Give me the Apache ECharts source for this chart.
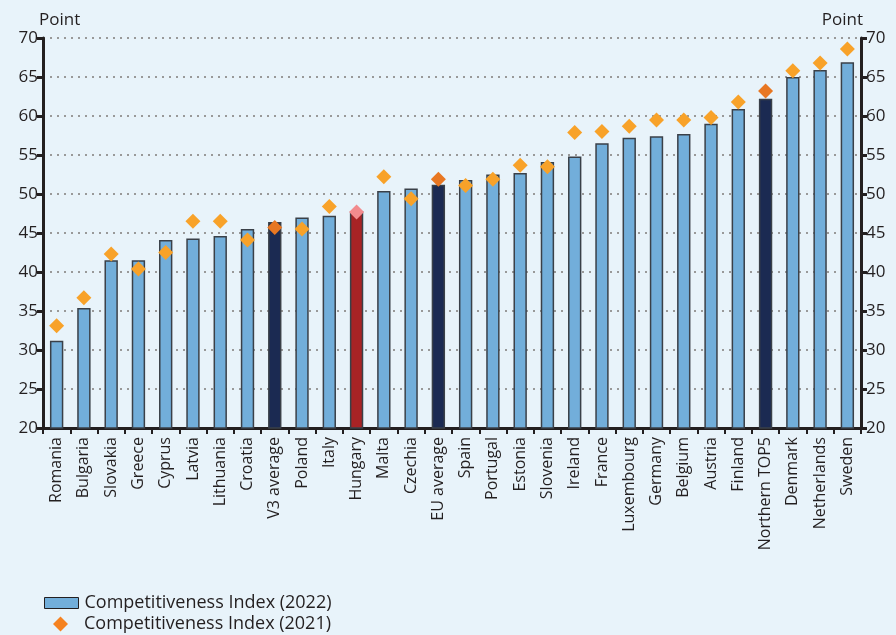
<!DOCTYPE html>
<html style="height: 100%">
<head>
<meta charset="utf-8">
<script src="https://cdn.jsdelivr.net/npm/echarts@6/dist/echarts.min.js"></script>
</head>
<body style="height: 100%; margin: 0; background: #E8F3FA">
<div id="container" style="width: 896px; height: 635px"></div>
<script type="text/javascript">
var categories = ['Romania', 'Bulgaria', 'Slovakia', 'Greece', 'Cyprus', 'Latvia', 'Lithuania', 'Croatia',
    'V3 average', 'Poland', 'Italy', 'Hungary', 'Malta', 'Czechia', 'EU average', 'Spain', 'Portugal',
    'Estonia', 'Slovenia', 'Ireland', 'France', 'Luxembourg', 'Germany', 'Belgium', 'Austria', 'Finland',
    'Northern TOP5', 'Denmark', 'Netherlands', 'Sweden'];
var index2022 = [31.2, 35.4, 41.5, 41.5, 44.1, 44.3, 44.6, 45.5, 46.4, 47.0, 47.2, 47.8, 50.4, 50.7, 51.2,
    51.8, 52.5, 52.7, 54.1, 54.8, 56.5, 57.2, 57.4, 57.7, 59.0, 60.9, 62.2, 65.0, 65.9, 66.9];
var index2021 = [33.1, 36.7, 42.3, 40.4, 42.5, 46.5, 46.5, 44.1, 45.7, 45.5, 48.4, 47.7, 52.2, 49.4, 51.9,
    51.1, 51.9, 53.7, 53.5, 57.9, 58.0, 58.7, 59.5, 59.5, 59.8, 61.8, 63.2, 65.8, 66.8, 68.6];
var yTicks = [20, 25, 30, 35, 40, 45, 50, 55, 60, 65, 70];

var averages = ['V3 average', 'EU average', 'Northern TOP5'];

var barData = categories.map(function (c, i) {
    var col = '#72AEDA';
    if (averages.indexOf(c) >= 0) col = '#1B2A52';
    if (c === 'Hungary') col = '#A82325';
    return { value: index2022[i], itemStyle: { color: col } };
});
var dotData = categories.map(function (c, i) {
    var col = '#F8A229';
    if (averages.indexOf(c) >= 0) col = '#E87722';
    if (c === 'Hungary') col = '#F28B8E';
    return { value: index2021[i], itemStyle: { color: col } };
});

var font = 'Open Sans';
var ink = '#231F20';
var yAxisBase = {
    type: 'value',
    min: yTicks[0],
    max: yTicks[yTicks.length - 1],
    interval: 5,
    name: 'Point',
    nameGap: 9,
    axisLine: { show: true, lineStyle: { color: ink, width: 3 } },
    axisTick: { show: true, length: 6, lineStyle: { color: ink, width: 3 } },
    axisLabel: { color: ink, fontSize: 17, fontFamily: font, margin: 5 },
    splitLine: { show: true, lineStyle: { color: '#999999', type: [2, 5], width: 2 } }
};

var dom = document.getElementById('container');
var myChart = echarts.init(dom);
var option = {
    backgroundColor: '#E8F3FA',
    animation: false,
    grid: { left: 43, right: 35, top: 38, bottom: 207, containLabel: false },
    legend: [
        {
            left: 44,
            top: 594,
            padding: 0,
            textStyle: { color: ink, fontSize: 18, fontFamily: font, padding: [0, 0, 0, 1] },
            data: [{
                name: 'Competitiveness Index (2022)', icon: 'rect',
                itemStyle: { color: '#72AEDA', borderColor: ink, borderWidth: 1 }
            }],
            itemWidth: 34,
            itemHeight: 11
        },
        {
            left: 53,
            top: 615,
            padding: 0,
            textStyle: { color: ink, fontSize: 18, fontFamily: font, padding: [0, 0, 0, 11] },
            data: [{
                name: 'Competitiveness Index (2021)', icon: 'diamond',
                itemStyle: { color: '#F58220', borderWidth: 0 }
            }],
            itemWidth: 15,
            itemHeight: 15
        }
    ],
    xAxis: {
        type: 'category',
        data: categories,
        axisLine: { lineStyle: { color: ink, width: 3 } },
        axisTick: { show: true, length: 6, lineStyle: { color: ink, width: 2 } },
        axisLabel: { rotate: 90, interval: 0, color: ink, fontSize: 16, fontFamily: font, margin: 9 }
    },
    yAxis: [
        Object.assign({}, yAxisBase, {
            position: 'left',
            nameTextStyle: { color: ink, fontSize: 17, fontFamily: font, align: 'left', padding: [0, 0, 0, -4] }
        }),
        Object.assign({}, yAxisBase, {
            position: 'right',
            splitLine: { show: false },
            nameTextStyle: { color: ink, fontSize: 17, fontFamily: font, align: 'right', padding: [0, -2, 0, 0] }
        })
    ],
    series: [
        {
            name: 'Competitiveness Index (2022)',
            type: 'bar',
            barWidth: '49%',
            data: barData,
            itemStyle: { borderColor: '#3A4048', borderWidth: 1.5 }
        },
        {
            name: 'Competitiveness Index (2021)',
            type: 'scatter',
            symbol: 'diamond',
            symbolSize: 15,
            data: dotData,
            itemStyle: { opacity: 1 },
            z: 5
        }
    ]
};
myChart.setOption(option, true);
</script>
</body>
</html>
